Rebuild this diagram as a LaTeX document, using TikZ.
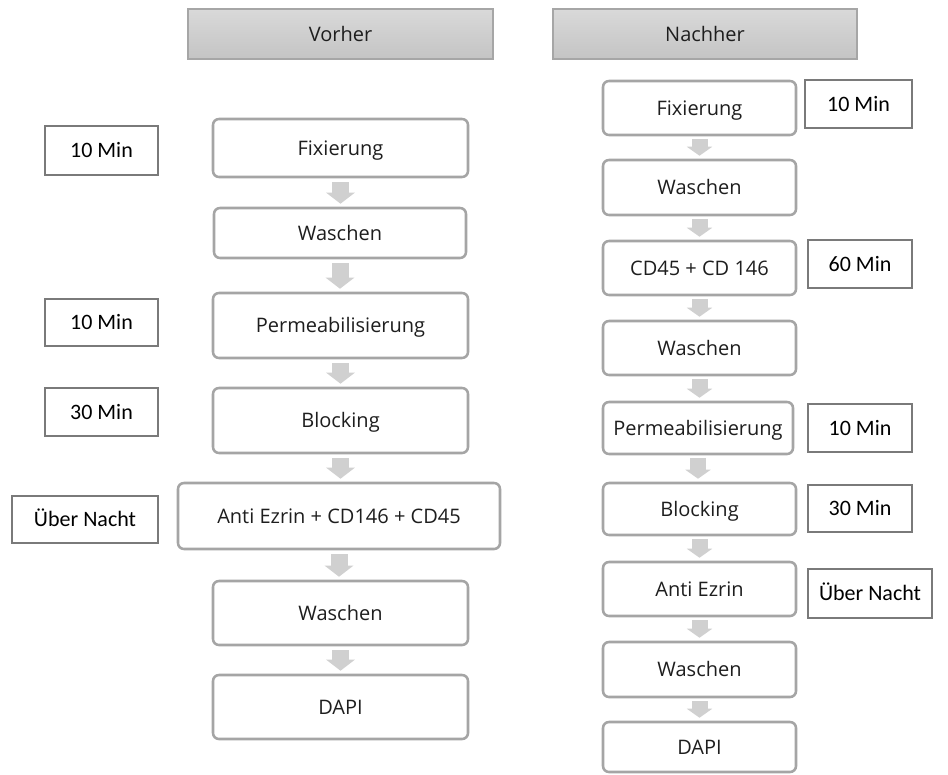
\documentclass[tikz,border=0pt]{standalone}
\usepackage{fontspec}
\setmainfont{Open Sans}
\newfontfamily\timefont{Carlito}
\usetikzlibrary{arrows.meta}
\definecolor{flowborder}{RGB}{165,165,165}
\definecolor{timeborder}{RGB}{122,122,122}
\definecolor{arrgray}{RGB}{208,208,208}
\definecolor{txt}{RGB}{30,30,30}
\definecolor{hdtop}{RGB}{217,217,217}
\definecolor{hdbot}{RGB}{196,196,196}
\definecolor{hdborder}{RGB}{166,166,166}
\newcommand\mkbox[7]{%
 \pgfmathsetmacro\bxcx{(#3+#5)/2}\pgfmathsetmacro\bxcy{(#4+#6)/2}%
 \pgfmathsetmacro\bxww{(#5-#3)*0.75}\pgfmathsetmacro\bxhh{(#6-#4)*0.75}%
 \node[#1, minimum width=\bxww pt, minimum height=\bxhh pt] (#2) at (\bxcx,\bxcy) {#7};}
\begin{document}
\begin{tikzpicture}[x=0.75pt,y=-0.75pt,
 flowbox/.style={draw=flowborder, line width=1.9pt, rounded corners=4.5pt, fill=white, inner sep=0pt, font=\fontsize{15}{17}\selectfont, text=txt, text height=10.7pt, text depth=0pt},
 timebox/.style={draw=timeborder, line width=1.5pt, fill=white, inner sep=0pt, font=\timefont\fontsize{16.5}{18}\selectfont, text=black, text height=10.6pt, text depth=0pt},
 headbox/.style={draw=hdborder, line width=1.5pt, top color=hdtop, bottom color=hdbot, inner sep=0pt, font=\fontsize{15}{17}\selectfont, text=txt, text height=10.7pt, text depth=0pt},
 larr/.style={draw=arrgray, line width=12.75pt, line cap=butt, -{Triangle[width=21pt,length=8.25pt]}, shorten <=3pt, shorten >=2.25pt},
 rarr/.style={draw=arrgray, line width=12pt, line cap=butt, -{Triangle[width=18.75pt,length=6.75pt]}, shorten <=2.25pt, shorten >=2.25pt}]
\useasboundingbox (0,0) rectangle (948,774);

% headers
\mkbox{headbox}{hv}{188}{9}{493}{59}{Vorher}
\mkbox{headbox}{hn}{553}{9}{857}{59}{Nachher}

% left flow
\mkbox{flowbox}{l1}{213}{119}{468}{177}{Fixierung}
\mkbox{flowbox}{l2}{214}{208}{466}{258}{Waschen}
\mkbox{flowbox}{l3}{213}{293}{468}{358}{Permeabilisierung}
\mkbox{flowbox}{l4}{213}{388}{468}{453}{Blocking}
\mkbox{flowbox}{l5}{178}{483}{500}{549}{Anti Ezrin + CD146 + CD45}
\mkbox{flowbox}{l6}{213}{581}{468}{645}{Waschen}
\mkbox{flowbox}{l7}{213}{675}{468}{739}{DAPI}

% left times
\mkbox{timebox}{t1}{45}{126}{158}{175}{10 Min}
\mkbox{timebox}{t2}{45}{299}{158}{346}{10 Min}
\mkbox{timebox}{t3}{45}{388}{158}{436}{30 Min}
\mkbox{timebox}{t4}{12}{496}{158}{543}{Über Nacht}

% right flow
\mkbox{flowbox}{r1}{603}{81}{796}{135}{Fixierung}
\mkbox{flowbox}{r2}{603}{160}{796}{215}{Waschen}
\mkbox{flowbox}{r3}{603}{241}{796}{295}{CD45 + CD 146}
\mkbox{flowbox}{r4}{603}{321}{796}{375}{Waschen}
\mkbox{flowbox}{r5}{603}{402}{793}{454}{Permeabilisierung}
\mkbox{flowbox}{r6}{603}{483}{796}{535}{Blocking}
\mkbox{flowbox}{r7}{603}{562}{796}{616}{Anti Ezrin}
\mkbox{flowbox}{r8}{603}{642}{796}{697}{Waschen}
\mkbox{flowbox}{r9}{603}{722}{796}{772}{DAPI}

% right times
\mkbox{timebox}{s1}{805}{80}{912}{128}{10 Min}
\mkbox{timebox}{s2}{808}{240}{912}{288}{60 Min}
\mkbox{timebox}{s3}{808}{404}{912}{452}{10 Min}
\mkbox{timebox}{s4}{808}{485}{912}{532}{30 Min}
\mkbox{timebox}{s5}{808}{569}{932}{618}{Über Nacht}

% left arrows
\foreach \a/\b in {l1/l2,l2/l3,l3/l4,l4/l5,l5/l6,l6/l7}
  \draw[larr] (\a.south) -- (\a.south |- \b.north);
% right arrows
\foreach \a/\b in {r1/r2,r2/r3,r3/r4,r4/r5,r5/r6,r6/r7,r7/r8,r8/r9}
  \draw[rarr] (\a.south) -- (\a.south |- \b.north);
\end{tikzpicture}
\end{document}
